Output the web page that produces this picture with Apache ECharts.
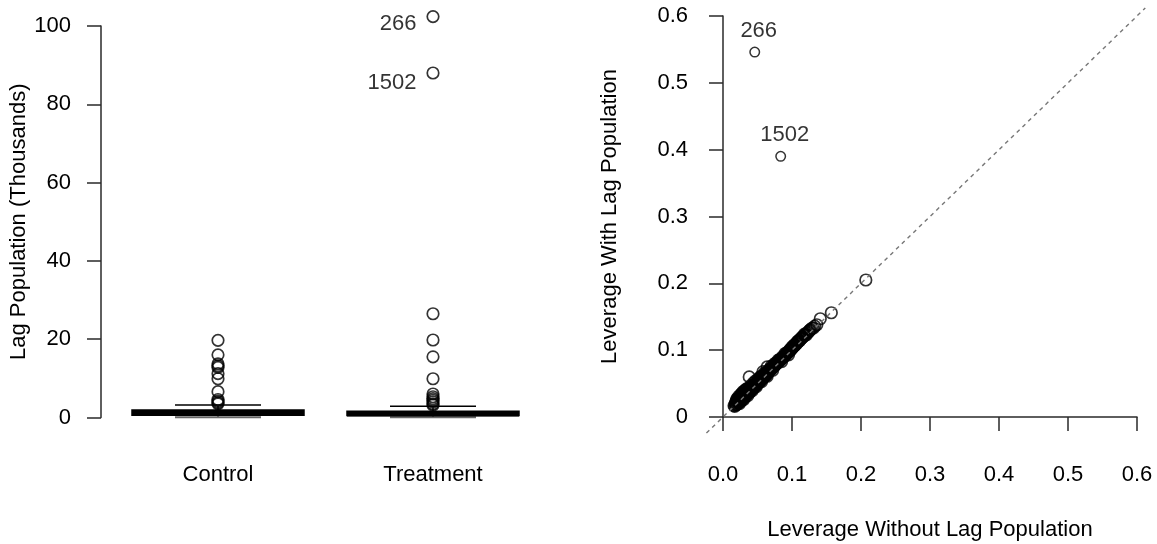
<!DOCTYPE html>
<html>
<head>
<meta charset="utf-8">
<script src="https://cdn.jsdelivr.net/npm/echarts@6/dist/echarts.min.js"></script>
<style>
  html, body { margin: 0; padding: 0; background: #fff; }
  #main { width: 1157px; height: 544px; }
</style>
</head>
<body>
<div id="main"></div>
<script>
// left panel: boxplot of lag population (thousands)
var groups = ['Control', 'Treatment'];
// [lower whisker, Q1, median, Q3, upper whisker]
var controlStats = [0.05, 0.6, 1.2, 1.9, 3.2];
var treatmentStats = [0.05, 0.5, 0.95, 1.6, 2.85];
var controlOutliers = [19.7, 16.0, 13.7, 13.2, 12.8, 11.2, 9.9, 6.6, 4.6, 4.2, 3.8, 3.5];
var treatmentOutliers = [26.5, 19.8, 15.5, 9.9, 6.0, 5.3, 4.8, 4.4, 4.0, 3.5, 3.2];
var labeledLagIds = ['266', '1502'];
var labeledLagValues = [102.4, 88.0];
var lagTicks = ['0', '20', '40', '60', '80', '100'];

// right panel: leverage with vs without lag population
var leverageWithout = [
  0.016,0.017,0.018,0.018,0.019,0.020,0.020,0.021,0.022,0.022,0.023,0.024,0.024,0.025,0.026,0.026,
  0.027,0.028,0.028,0.029,0.030,0.030,0.031,0.032,0.033,0.033,0.034,0.035,0.036,0.037,0.038,0.038,
  0.039,0.040,0.041,0.042,0.043,0.044,0.045,0.046,0.047,0.048,0.049,0.050,0.051,0.052,0.053,0.054,
  0.055,0.056,0.057,0.058,0.059,0.060,0.061,0.062,0.063,0.064,0.065,0.066,0.067,0.068,0.069,0.070,
  0.071,0.072,0.073,0.074,0.075,0.076,0.077,0.078,0.079,0.080,0.081,0.082,0.083,0.084,0.085,0.086,
  0.087,0.088,0.089,0.090,0.091,0.092,0.093,0.094,0.095,0.096,0.097,0.098,0.099,0.100,0.101,0.102,
  0.103,0.104,0.105,0.106,0.107,0.108,0.109,0.110,0.111,0.112,0.113,0.114,0.115,0.116,0.118,0.119,
  0.120,0.122,0.124,0.125,0.127,0.129,0.131,0.133,0.136,0.141,0.157,0.207,0.038,0.064,0.058,
  0.020,0.023,0.027,0.031,0.034,0.040,0.044,0.050,0.055,0.060,0.070,0.075,0.080,0.090,0.100,0.110,
  0.024,0.030,0.036,0.042,0.048,0.056,0.064,0.072,0.085,0.095,0.026,0.029,0.033,0.047,0.053,
  0.019,0.021,0.025,0.028,0.032,0.035,0.037,0.041,0.043,0.046,0.049,0.052,0.054,0.057,0.059,
  0.062,0.066,0.068,0.073,0.077,0.082,0.086,0.092,0.097,0.103,0.108,0.114,0.118,0.121,0.126
];
var leverageWith = [
  0.017,0.016,0.019,0.021,0.018,0.022,0.019,0.024,0.021,0.026,0.023,0.022,0.028,0.025,0.030,0.024,
  0.027,0.032,0.026,0.029,0.034,0.028,0.031,0.036,0.031,0.034,0.038,0.034,0.036,0.040,0.036,0.039,
  0.042,0.039,0.041,0.045,0.042,0.044,0.048,0.045,0.047,0.050,0.048,0.051,0.053,0.051,0.055,0.054,
  0.057,0.056,0.059,0.058,0.061,0.060,0.063,0.062,0.065,0.064,0.067,0.067,0.069,0.070,0.071,0.072,
  0.073,0.074,0.075,0.076,0.077,0.078,0.079,0.080,0.081,0.082,0.083,0.084,0.085,0.086,0.087,0.088,
  0.089,0.090,0.091,0.092,0.093,0.094,0.096,0.096,0.097,0.099,0.099,0.101,0.101,0.103,0.104,0.105,
  0.106,0.107,0.108,0.110,0.110,0.112,0.113,0.114,0.114,0.116,0.117,0.118,0.119,0.120,0.122,0.123,
  0.124,0.126,0.127,0.129,0.131,0.133,0.133,0.136,0.138,0.147,0.156,0.205,0.060,0.075,0.068,
  0.027,0.031,0.035,0.039,0.042,0.047,0.051,0.056,0.061,0.066,0.076,0.080,0.085,0.095,0.105,0.115,
  0.020,0.026,0.032,0.039,0.045,0.053,0.061,0.070,0.083,0.093,0.034,0.038,0.041,0.054,0.059,
  0.024,0.027,0.029,0.030,0.033,0.037,0.043,0.044,0.047,0.049,0.052,0.055,0.058,0.061,0.063,
  0.066,0.070,0.072,0.077,0.081,0.086,0.090,0.096,0.101,0.108,0.113,0.119,0.124,0.123,0.130
];
var labeledLevIds = ['266', '1502'];
var labeledLevWithout = [0.046, 0.0836];
var labeledLevWith = [0.546, 0.390];
var refLine = [-0.024, 0.612];
var levXTicks = ['0.0', '0.1', '0.2', '0.3', '0.4', '0.5', '0.6'];
var levYTicks = ['0', '0.1', '0.2', '0.3', '0.4', '0.5', '0.6'];

var FONT = "'Liberation Sans', Arial, Helvetica, sans-serif";
var FS = 22;
var AXIS_COLOR = '#2a2a2a';
var TXT = '#000';

var chart = echarts.init(document.getElementById('main'), null, { renderer: 'canvas' });

function outlierPoints(idx, arr) {
  return arr.map(function (v) { return [idx, v]; });
}

var scatterPts = leverageWithout.map(function (x, i) { return [x, leverageWith[i]]; });
var circleStyle = { color: 'rgba(0,0,0,0)', borderColor: '#000', borderWidth: 1.7 };

var option = {
  backgroundColor: '#fff',
  animation: false,
  textStyle: { fontFamily: FONT },
  grid: [
    { left: 110.5, top: 26, width: 430, height: 391.5, outerBoundsMode: 'none' },
    { left: 723, top: 16, width: 414, height: 401, outerBoundsMode: 'none' }
  ],
  xAxis: [
    {
      gridIndex: 0, type: 'category', data: groups, boundaryGap: true,
      axisLine: { show: false }, axisTick: { show: false }, splitLine: { show: false },
      axisLabel: { margin: 46, fontSize: FS, color: TXT, fontFamily: FONT }
    },
    {
      gridIndex: 1, type: 'value', min: 0, max: 0.6, interval: 0.1, offset: 17,
      axisLine: { show: true, lineStyle: { color: AXIS_COLOR, width: 1.5 } },
      axisTick: { show: true, length: 14, lineStyle: { color: AXIS_COLOR, width: 1.5 } },
      splitLine: { show: false },
      axisLabel: {
        margin: 30, fontSize: FS, color: TXT, fontFamily: FONT,
        formatter: function (v) { return levXTicks[Math.round(v * 10)]; }
      },
      name: 'Leverage Without Lag Population', nameLocation: 'middle', nameGap: 85,
      nameTextStyle: { fontSize: FS, color: TXT, fontFamily: FONT }
    }
  ],
  yAxis: [
    {
      gridIndex: 0, type: 'value', min: 0, max: 100, interval: 20, offset: 9.5,
      axisLine: { show: true, lineStyle: { color: AXIS_COLOR, width: 1.5 } },
      axisTick: { show: true, length: 14, lineStyle: { color: AXIS_COLOR, width: 1.5 } },
      splitLine: { show: false },
      axisLabel: {
        margin: 30, fontSize: FS, color: TXT, fontFamily: FONT,
        formatter: function (v) { return lagTicks[Math.round(v / 20)]; }
      },
      name: 'Lag Population (Thousands)', nameLocation: 'middle', nameGap: 67,
      nameTextStyle: { fontSize: FS, color: TXT, fontFamily: FONT }
    },
    {
      gridIndex: 1, type: 'value', min: 0, max: 0.6, interval: 0.1, offset: 15,
      axisLine: { show: true, lineStyle: { color: AXIS_COLOR, width: 1.5 } },
      axisTick: { show: true, length: 14, lineStyle: { color: AXIS_COLOR, width: 1.5 } },
      splitLine: { show: false },
      axisLabel: {
        margin: 20, fontSize: FS, color: TXT, fontFamily: FONT,
        formatter: function (v) { return levYTicks[Math.round(v * 10)]; }
      },
      name: 'Leverage With Lag Population', nameLocation: 'middle', nameGap: 87,
      nameTextStyle: { fontSize: FS, color: TXT, fontFamily: FONT }
    }
  ],
  series: [
    {
      // R-style boxplot: box, thick median, dashed whiskers, half-width staples
      type: 'custom', xAxisIndex: 0, yAxisIndex: 0, clip: false, z: 3,
      data: [[0].concat(controlStats), [1].concat(treatmentStats)],
      renderItem: function (params, api) {
        var i = api.value(0);
        var lo = api.coord([i, api.value(1)]);
        var q1 = api.coord([i, api.value(2)]);
        var md = api.coord([i, api.value(3)]);
        var q3 = api.coord([i, api.value(4)]);
        var hi = api.coord([i, api.value(5)]);
        var bw = api.size([1, 0])[0] * 0.8;
        var cx = md[0];
        var black = { stroke: '#000', lineWidth: 1.5, fill: null };
        return {
          type: 'group',
          children: [
            { type: 'line', shape: { x1: cx, y1: q3[1], x2: cx, y2: hi[1] }, style: { stroke: '#000', lineWidth: 1.5, lineDash: [4, 3] } },
            { type: 'line', shape: { x1: cx, y1: q1[1], x2: cx, y2: lo[1] }, style: { stroke: '#000', lineWidth: 1.5, lineDash: [4, 3] } },
            { type: 'line', shape: { x1: cx - bw / 4, y1: hi[1], x2: cx + bw / 4, y2: hi[1] }, style: black },
            { type: 'line', shape: { x1: cx - bw / 4, y1: lo[1], x2: cx + bw / 4, y2: lo[1] }, style: { stroke: '#666', lineWidth: 2 } },
            { type: 'rect', shape: { x: cx - bw / 2, y: q3[1], width: bw, height: q1[1] - q3[1] }, style: black },
            { type: 'line', shape: { x1: cx - bw / 2, y1: md[1], x2: cx + bw / 2, y2: md[1] }, style: { stroke: '#000', lineWidth: 5.5 } }
          ]
        };
      }
    },
    {
      type: 'scatter', xAxisIndex: 0, yAxisIndex: 0, clip: false, z: 4,
      symbol: 'circle', symbolSize: 11.5, itemStyle: circleStyle,
      data: outlierPoints(0, controlOutliers).concat(outlierPoints(1, treatmentOutliers))
    },
    {
      type: 'scatter', xAxisIndex: 0, yAxisIndex: 0, clip: false, z: 4,
      symbol: 'circle', symbolSize: 11.5, itemStyle: circleStyle,
      label: {
        show: true, position: 'left', distance: 10, fontSize: FS, color: TXT, fontFamily: FONT,
        formatter: function (p) { return labeledLagIds[p.dataIndex]; }
      },
      data: labeledLagValues.map(function (v, k) {
        return { value: [1, v], label: { offset: [0, k === 0 ? 7 : 10] } };
      })
    },
    {
      type: 'scatter', xAxisIndex: 1, yAxisIndex: 1, clip: false, z: 4,
      symbol: 'circle', symbolSize: 11.5, itemStyle: circleStyle,
      data: scatterPts
    },
    {
      type: 'scatter', xAxisIndex: 1, yAxisIndex: 1, clip: false, z: 4,
      symbol: 'circle', symbolSize: 9.5, itemStyle: { color: 'rgba(0,0,0,0)', borderColor: '#000', borderWidth: 1.5 },
      label: {
        show: true, position: 'top', distance: 5, offset: [4, 0], fontSize: FS, color: TXT, fontFamily: FONT,
        formatter: function (p) { return labeledLevIds[p.dataIndex]; }
      },
      data: labeledLevWithout.map(function (x, k) { return [x, labeledLevWith[k]]; })
    },
    {
      // y = x reference line, drawn through the plot region beyond the axis ends
      type: 'custom', xAxisIndex: 1, yAxisIndex: 1, clip: false, z: 6, silent: true,
      data: [[refLine[0], refLine[1]]],
      renderItem: function (params, api) {
        var a = api.coord([api.value(0), api.value(0)]);
        var b = api.coord([api.value(1), api.value(1)]);
        return {
          type: 'line',
          shape: { x1: a[0], y1: a[1], x2: b[0], y2: b[1] },
          style: { stroke: '#777', lineWidth: 1.4, lineDash: [4, 4] }
        };
      }
    }
  ]
};

chart.setOption(option);
</script>
</body>
</html>
